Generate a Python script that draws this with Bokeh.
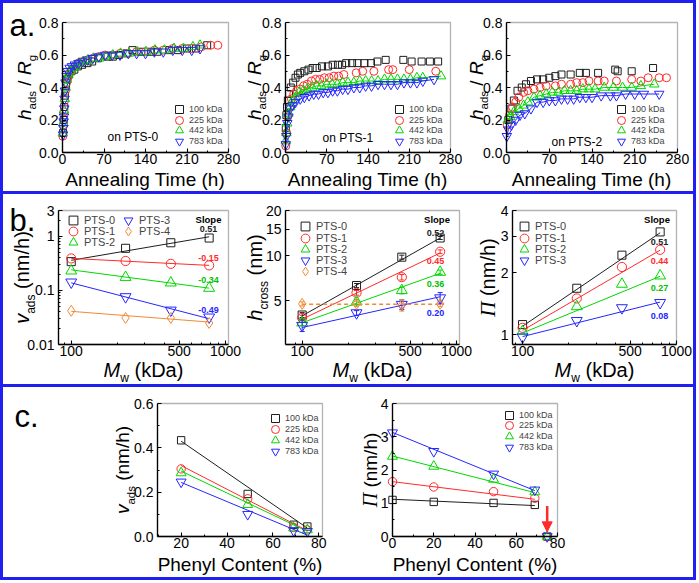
import math
from bokeh.plotting import figure
from bokeh.models import (Label, Legend, LegendItem, FixedTicker, NumeralTickFormatter, Range1d,
                          Arrow, NormalHead, Whisker, TeeHead, ColumnDataSource, BoxAnnotation)
from bokeh.layouts import row, column
from bokeh.embed import file_html
from bokeh.resources import INLINE

SANS = "Liberation Sans"
SERIF = "Liberation Serif"
BOX_BLUE = "#1f1ff2"
BLACK = "#1e1e1e"
RED = "#ff2a2a"
GREEN = "#00d800"
BLUE = "#2626ff"
ORANGE = "#f28a34"
SLOPE_GREEN = "#00c000"

MW_NAMES = ["100 kDa", "225 kDa", "442 kDa", "783 kDa"]
PTS_NAMES = ["PTS-0", "PTS-1", "PTS-2", "PTS-3", "PTS-4"]
MARKERS = ["square", "circle", "triangle", "inverted_triangle", "diamond"]
COLORS = [BLACK, RED, GREEN, BLUE, ORANGE]
SLOPE_COLORS = [BLACK, RED, SLOPE_GREEN, BLUE]
BASE_SIZES = [7, 8, 9.5, 9.5, 9.5]

# ---------------- panel a : h_ads / R_g vs annealing time ----------------
a_xticks = [0, 70, 140, 210, 280]
a_xminor = [35, 105, 175, 245]
a_yticks = [0.0, 0.2, 0.4, 0.6, 0.8]
a_yminor = [0.1, 0.3, 0.5, 0.7]

# PTS-0
a1_t100 = [1, 2, 3, 4, 6, 8, 11, 15, 20, 26, 33, 42, 50, 60, 76, 85, 95, 108, 118, 133, 149, 160, 180, 195, 210, 225, 244]
a1_h100 = [0.12, 0.2, 0.28, 0.35, 0.41, 0.45, 0.48, 0.5, 0.51, 0.53, 0.54, 0.55, 0.56, 0.58, 0.59, 0.59, 0.6, 0.61, 0.63, 0.62, 0.62, 0.62, 0.63, 0.63, 0.64, 0.64, 0.66]
a1_t225 = [0.5, 1.5, 2.5, 3.5, 5, 7, 9, 12, 16, 21, 27, 34, 42, 51, 61, 72, 84, 97, 111, 125, 140, 155, 170, 186, 202, 218, 234, 250, 262]
a1_h225 = [0.1, 0.17, 0.25, 0.32, 0.38, 0.43, 0.46, 0.49, 0.51, 0.53, 0.55, 0.56, 0.57, 0.58, 0.59, 0.6, 0.6, 0.61, 0.61, 0.62, 0.62, 0.63, 0.63, 0.64, 0.64, 0.64, 0.65, 0.66, 0.66]
a1_t442 = [0.5, 1.5, 2.5, 4, 5.5, 7.5, 10, 13, 17, 22, 28, 35, 43, 52, 62, 73, 85, 98, 112, 126, 141, 156, 172, 188, 204, 220, 232]
a1_h442 = [0.12, 0.18, 0.26, 0.33, 0.4, 0.45, 0.48, 0.5, 0.52, 0.53, 0.55, 0.56, 0.57, 0.58, 0.58, 0.59, 0.6, 0.61, 0.61, 0.62, 0.62, 0.63, 0.63, 0.64, 0.64, 0.65, 0.66]
a1_t783 = [1, 1.5, 2, 2.5, 3, 3.5, 4, 5, 7, 9, 12, 16, 21, 27, 34, 42, 51, 61, 72, 84, 97, 111, 125, 140, 155, 170, 186, 202, 218, 232]
a1_h783 = [0.11, 0.15, 0.19, 0.22, 0.27, 0.33, 0.38, 0.43, 0.47, 0.5, 0.52, 0.53, 0.54, 0.55, 0.56, 0.57, 0.58, 0.59, 0.6, 0.6, 0.6, 0.61, 0.61, 0.61, 0.62, 0.62, 0.63, 0.63, 0.63, 0.64]

# PTS-1
a2_t100 = [0.5, 1.5, 2.5, 4, 6, 9, 13, 17, 21, 25, 32, 39, 46, 53, 62, 72, 80, 89, 96, 103, 113, 122, 134, 145, 156, 170, 200, 214, 231, 245, 259]
a2_h100 = [0.15, 0.23, 0.28, 0.32, 0.36, 0.4, 0.43, 0.46, 0.48, 0.49, 0.5, 0.51, 0.52, 0.52, 0.53, 0.53, 0.54, 0.54, 0.54, 0.55, 0.55, 0.55, 0.55, 0.55, 0.56, 0.57, 0.57, 0.56, 0.56, 0.56, 0.56]
a2_t225 = [0.5, 2, 4, 7, 10, 14, 19, 25, 31, 37, 44, 51, 58, 66, 74, 82, 90, 99, 120, 131, 150, 175, 182, 210, 255]
a2_h225 = [0.04, 0.12, 0.22, 0.28, 0.33, 0.36, 0.38, 0.39, 0.41, 0.42, 0.44, 0.45, 0.45, 0.46, 0.46, 0.47, 0.47, 0.48, 0.49, 0.5, 0.5, 0.51, 0.51, 0.51, 0.5]
a2_t442 = [0.5, 1.5, 3, 5, 8, 12, 17, 23, 30, 37, 45, 53, 61, 70, 79, 88, 97, 106, 116, 126, 136, 146, 157, 168, 179, 190, 201, 212, 223, 233, 264]
a2_h442 = [0.07, 0.12, 0.18, 0.24, 0.28, 0.32, 0.34, 0.37, 0.38, 0.39, 0.4, 0.41, 0.41, 0.42, 0.42, 0.42, 0.43, 0.43, 0.43, 0.44, 0.44, 0.44, 0.44, 0.45, 0.45, 0.45, 0.45, 0.45, 0.46, 0.46, 0.47]
a2_t783 = [0.5, 1.5, 3, 5, 8, 12, 17, 25, 32, 40, 48, 56, 64, 72, 80, 88, 97, 106, 116, 126, 136, 146, 157, 168, 179, 190, 201, 212, 223, 233, 252]
a2_h783 = [0.05, 0.1, 0.18, 0.22, 0.27, 0.29, 0.31, 0.33, 0.34, 0.35, 0.36, 0.36, 0.37, 0.37, 0.38, 0.38, 0.39, 0.39, 0.4, 0.4, 0.41, 0.41, 0.42, 0.42, 0.42, 0.42, 0.43, 0.43, 0.43, 0.44, 0.45]

# PTS-2
a3_t100 = [3, 8, 12, 18, 25, 32, 40, 50, 60, 70, 80, 90, 105, 120, 130, 150, 178, 182, 205, 240]
a3_h100 = [0.2, 0.27, 0.32, 0.38, 0.4, 0.42, 0.44, 0.45, 0.45, 0.46, 0.47, 0.48, 0.48, 0.49, 0.49, 0.49, 0.51, 0.5, 0.5, 0.52]
a3_t225 = [1, 5, 10, 15, 20, 28, 35, 45, 55, 65, 80, 90, 105, 115, 125, 135, 150, 160, 180, 205, 220, 232, 250, 262]
a3_h225 = [0.17, 0.23, 0.28, 0.31, 0.34, 0.37, 0.38, 0.39, 0.4, 0.41, 0.41, 0.42, 0.42, 0.43, 0.43, 0.44, 0.44, 0.44, 0.44, 0.45, 0.44, 0.46, 0.46, 0.46]
a3_t442 = [2, 6, 12, 20, 28, 35, 45, 55, 65, 75, 85, 95, 105, 115, 125, 135, 145, 160, 175, 190, 205, 220, 242]
a3_h442 = [0.2, 0.22, 0.25, 0.27, 0.29, 0.31, 0.34, 0.35, 0.36, 0.37, 0.37, 0.38, 0.38, 0.38, 0.39, 0.39, 0.39, 0.4, 0.4, 0.4, 0.4, 0.41, 0.42]
a3_t783 = [0.5, 3, 8, 15, 22, 30, 40, 50, 60, 70, 80, 90, 100, 110, 120, 130, 140, 155, 170, 180, 195, 210, 225, 250]
a3_h783 = [0.1, 0.14, 0.17, 0.2, 0.23, 0.24, 0.27, 0.31, 0.31, 0.32, 0.32, 0.33, 0.33, 0.33, 0.34, 0.34, 0.34, 0.35, 0.35, 0.35, 0.36, 0.36, 0.36, 0.36]

# ---------------- panel b : log-log vs Mw ----------------
mw = [100, 225, 442, 783]
fit_mw = [100, 783]
b_xticks = [100, 500, 1000]
b_xminor = [90, 200, 300, 400, 600, 700, 800, 900]

v_pts0 = [0.34, 0.60, 0.76, 0.93]
v_pts1 = [0.39, 0.35, 0.31, 0.29]
v_pts2 = [0.23, 0.175, 0.138, 0.11]
v_pts3 = [0.142, 0.076, 0.043, 0.032]
v_pts4 = [0.042, 0.031, 0.031, 0.025]
v_fit0 = [0.36, 0.98]
v_fit1 = [0.39, 0.29]
v_fit2 = [0.24, 0.11]
v_fit3 = [0.138, 0.030]
v_fit4 = [0.041, 0.026]
v_slopes = ["0.51", "-0.15", "-0.34", "-0.49"]
b1_yticks = [0.01, 0.1, 1, 3]
b1_yminor = [0.02, 0.03, 0.04, 0.05, 0.06, 0.07, 0.08, 0.09, 0.2, 0.3, 0.4, 0.5, 0.6, 0.7, 0.8, 0.9, 2]

h_pts0 = [4.0, 6.3, 9.75, 13.1]
h_pts1 = [3.83, 5.63, 7.16, 10.6]
h_pts2 = [3.55, 4.9, 5.84, 7.74]
h_pts3 = [3.4, 4.13, 4.7, 5.2]
h_pts4 = [4.75, 4.75, 4.65, 4.75]
h_err0 = [0.15, 0.2, 0.3, 0.3]
h_err1 = [0.15, 0.2, 0.3, 0.3]
h_err2 = [0.15, 0.2, 0.3, 0.25]
h_err3 = [0.3, 0.15, 0.35, 0.45]
h_err4 = [0.15, 0.2, 0.4, 0.2]
h_fit0 = [3.95, 13.1]
h_fit1 = [3.75, 10.4]
h_fit2 = [3.55, 7.6]
h_fit3 = [3.3, 5.3]
h4_dash_x = [100, 830]
h4_dash_y = [4.72, 4.72]
h_slopes = ["0.52", "0.45", "0.36", "0.20"]
b2_yticks = [5, 10, 15, 20]

pi_pts0 = [1.12, 1.68, 2.43, 3.15]
pi_pts1 = [1.08, 1.5, 2.13, 2.58]
pi_pts2 = [1.04, 1.37, 1.76, 1.93]
pi_pts3 = [0.975, 1.17, 1.35, 1.43]
pi_fit0 = [1.1, 3.12]
pi_fit1 = [1.05, 2.57]
pi_fit2 = [1.02, 1.92]
pi_fit3 = [0.98, 1.44]
pi_slopes = ["0.51", "0.44", "0.27", "0.08"]
b3_yticks = [1, 2, 3, 4]

# ---------------- panel c : vs phenyl content ----------------
c1_x = [20, 49, 69, 75]
c1_v100 = [0.434, 0.192, 0.053, 0.045]
c1_v225 = [0.305, 0.17, 0.041, 0.03]
c1_v442 = [0.287, 0.144, 0.038, 0.03]
c1_v783 = [0.246, 0.10, 0.027, 0.023]
c1_fit_x = [20, 75]
c1_f100 = [0.43, 0.038]
c1_f225 = [0.32, 0.026]
c1_f442 = [0.295, 0.023]
c1_f783 = [0.244, 0.006]

c2_x = [0, 20, 49, 69, 75]
c2_p100 = [1.10, 1.04, 1.01, 0.95, 0]
c2_p225 = [1.65, 1.49, 1.35, 1.15, 0]
c2_p442 = [2.41, 2.11, 1.72, 1.34, 0]
c2_p783 = [3.12, 2.56, 1.88, 1.40, 0]
c2_fit_x = [0, 69]
c2_f100 = [1.12, 0.93]
c2_f225 = [1.65, 1.12]
c2_f442 = [2.42, 1.32]
c2_f783 = [3.13, 1.38]
arrow_x = 75
arrow_y = [0.92, 0.14]

# ---------------- helpers ----------------
CW = {' ': 278, '(': 333, ')': 333, '/': 278, '%': 889, '-': 333, '.': 278,
      'a': 556, 'c': 500, 'd': 556, 'e': 556, 'g': 556, 'h': 556, 'i': 222, 'k': 500, 'l': 222,
      'm': 833, 'n': 556, 'o': 556, 'r': 333, 's': 500, 't': 278, 'v': 500, 'w': 722, 'y': 500,
      'C': 722, 'D': 722, 'M': 833, 'P': 667, 'R': 722, 'S': 667, 'T': 611, 'A': 667, '\u03a0': 720}
BASELINE_FIX = 0.22  # em; Bokeh draws "alphabetic" text a little below the anchor


def tw(s, size):
    return sum(CW.get(ch, 556) for ch in s) * size / 1000.0


def conv(v0, v1, t, log):
    if log:
        return 10 ** (math.log10(v0) + t * (math.log10(v1) - math.log10(v0)))
    return v0 + t * (v1 - v0)


class Panel:
    """A figure whose Bokeh frame is the whole canvas; the data box sits at (bl, bt, fw, fh)."""

    def __init__(self, W, H, bl, bt, fw, fh, xr, yr, xlog=False, ylog=False):
        self.W, self.H, self.bl, self.bt, self.fw, self.fh = W, H, bl, bt, fw, fh
        self.xr, self.yr, self.xlog, self.ylog = xr, yr, xlog, ylog
        xs = conv(xr[0], xr[1], -bl / fw, xlog)
        xe = conv(xr[0], xr[1], (W - bl) / fw, xlog)
        ys = conv(yr[0], yr[1], (fh - (H - bt)) / fh, ylog)
        ye = conv(yr[0], yr[1], (fh + bt) / fh, ylog)
        p = figure(width=W, height=H, x_range=Range1d(xs, xe), y_range=Range1d(ys, ye),
                   x_axis_type="log" if xlog else "linear", y_axis_type="log" if ylog else "linear",
                   output_backend="svg", toolbar_location=None,
                   min_border_left=0, min_border_right=0, min_border_top=0, min_border_bottom=0)
        p.background_fill_color = "white"
        p.border_fill_color = "white"
        p.outline_line_color = None
        p.xgrid.visible = False
        p.ygrid.visible = False
        for ax in list(p.xaxis) + list(p.yaxis):
            ax.axis_line_width = 1.3
            ax.axis_line_color = "black"
            ax.major_tick_in = 4
            ax.major_tick_out = 0
            ax.minor_tick_in = 2
            ax.minor_tick_out = 0
            ax.major_tick_line_width = 1.1
            ax.minor_tick_line_width = 1
            ax.major_tick_line_color = "black"
            ax.minor_tick_line_color = "black"
            ax.major_label_text_font = SANS
            ax.major_label_text_font_size = "14px"
            ax.major_label_text_color = "black"
        p.xaxis.fixed_location = yr[0]
        p.xaxis.bounds = (xr[0], xr[1])
        p.yaxis.fixed_location = xr[0]
        p.yaxis.bounds = (yr[0], yr[1])
        p.xaxis.major_label_standoff = 1
        p.yaxis.major_label_standoff = 4
        p.add_layout(BoxAnnotation(left=xr[0], right=xr[1], bottom=yr[0], top=yr[1],
                                   fill_color=None, fill_alpha=0, line_color="black", line_width=1.3))
        self.p = p

    def ticks(self, xt, xm, xf, yt, ym, yf):
        self.p.xaxis.ticker = FixedTicker(ticks=xt, minor_ticks=xm)
        self.p.xaxis.formatter = NumeralTickFormatter(format=xf)
        self.p.yaxis.ticker = FixedTicker(ticks=yt, minor_ticks=ym)
        self.p.yaxis.formatter = NumeralTickFormatter(format=yf)

    def d(self, fx, fy):
        # fx: px right of the data box's left edge, fy: px below its top edge
        return (conv(self.xr[0], self.xr[1], fx / self.fw, self.xlog),
                conv(self.yr[0], self.yr[1], (self.fh - fy) / self.fh, self.ylog))

    def text(self, fx, fy, s, size, color="black", style="normal", font=SANS, align="left", angle=0.0):
        if angle == 0.0:
            fy -= BASELINE_FIX * size
        else:
            fx -= BASELINE_FIX * size
        x, y = self.d(fx, fy)
        self.p.add_layout(Label(x=x, y=y, text=s, text_font=font, text_font_size=f"{size}px",
                                text_font_style=style, text_color=color, text_align=align,
                                text_baseline="alphabetic", angle=angle))

    @staticmethod
    def _split(s, sz):
        # leading/trailing blanks are not drawn by SVG text, so turn them into offsets
        core = s.strip(" ")
        lead = tw(s[:len(s) - len(s.lstrip(" "))], sz)
        return core, lead, tw(s, sz)

    def vlabel(self, fx, segs):
        total = sum(tw(s, sz) for s, sz, _, _, _ in segs)
        fy = self.fh / 2 + total / 2
        for s, sz, st, fnt, shift in segs:
            core, lead, full = self._split(s, sz)
            self.text(fx + shift, fy - lead, core, sz, style=st, font=fnt, angle=math.pi / 2)
            fy -= full

    def hlabel(self, fy, segs):
        total = sum(tw(s, sz) for s, sz, _, _, _ in segs)
        fx = self.fw / 2 - total / 2
        for s, sz, st, fnt, shift in segs:
            core, lead, full = self._split(s, sz)
            self.text(fx + lead, fy + shift, core, sz, style=st, font=fnt)
            fx += full

    def legend(self, items, mx, my, pitch, size, gs=20):
        # one single-entry Legend per row so the rows can sit closer than the glyph box
        for i, (lab, r) in enumerate(items):
            cy = my + i * pitch
            leg = Legend(items=[LegendItem(label=lab, renderers=[r])],
                         location=(self.bl + mx - gs / 2, self.H - (self.bt + cy + gs / 2)),
                         orientation="vertical", padding=0, margin=0, spacing=0,
                         glyph_width=gs, glyph_height=gs, label_height=gs, label_width=10,
                         label_standoff=0, label_text_font=SANS, label_text_font_size=f"{size}px",
                         border_line_alpha=0, background_fill_alpha=0)
            self.p.add_layout(leg)

    def pts(self, x, y, k, scale=1.0):
        return self.p.scatter(x, y, marker=MARKERS[k], size=BASE_SIZES[k] * scale,
                              line_color=COLORS[k], fill_color=None, line_width=1)

    def line(self, x, y, k, width=1.0, dash="solid"):
        return self.p.line(x, y, line_color=COLORS[k], line_width=width, line_dash=dash)


H_AXIS = [("h", 19, "italic", SANS, 0), ("ads", 11.5, "normal", SANS, 6),
          (" / ", 19, "normal", SANS, 0), ("R", 19, "italic", SANS, 0), ("g", 11.5, "normal", SANS, 6)]
V_AXIS_B = [("v", 20, "italic", SANS, 0), ("ads", 12, "normal", SANS, 7), (" (nm/h)", 20, "normal", SANS, 0)]
V_AXIS_C = [("v", 19, "italic", SANS, 0), ("ads", 11.5, "normal", SANS, 7), (" (nm/h)", 19, "normal", SANS, 0)]
HC_AXIS = [("h", 20, "italic", SANS, 0), ("cross", 12, "normal", SANS, 7), (" (nm)", 20, "normal", SANS, 0)]
PI_AXIS_B = [("\u03a0", 21, "italic", SERIF, 0), (" (nm/h)", 20, "normal", SANS, 0)]
PI_AXIS_C = [("\u03a0", 20, "italic", SERIF, 0), (" (nm/h)", 19, "normal", SANS, 0)]
MW_AXIS = [("M", 20, "italic", SANS, 0), ("w", 12, "normal", SANS, 6), (" (kDa)", 20, "normal", SANS, 0)]

# ---------------- row a ----------------
a_data = [
    [(a1_t100, a1_h100), (a1_t225, a1_h225), (a1_t442, a1_h442), (a1_t783, a1_h783)],
    [(a2_t100, a2_h100), (a2_t225, a2_h225), (a2_t442, a2_h442), (a2_t783, a2_h783)],
    [(a3_t100, a3_h100), (a3_t225, a3_h225), (a3_t442, a3_h442), (a3_t783, a3_h783)],
]
# (canvas width, box left, box width)
a_geom = [(237, 59, 166), (222, 45, 165), (231, 44, 171)]
a_labelx = [-34, -27, -26]
a_legx = [117, 114, 115]
a_tag = [("on PTS-0", 45, 117), ("on PTS-1", 37, 118), ("on PTS-2", 45, 122)]
a_panels = []
for i in range(3):
    W, bl, fw = a_geom[i]
    P = Panel(W, 188, bl, 19, fw, 130, (0, 280), (0, 0.8))
    P.ticks(a_xticks, a_xminor, "0", a_yticks, a_yminor, "0.0")
    rs = []
    for k in range(4):
        t, h = a_data[i][k]
        if i > 0 and k >= 2:
            P.line(t, h, k)
        rs.append(P.pts(t, h, k))
    P.legend(list(zip(MW_NAMES, rs)), a_legx[i], 87, 10.5, 9)
    tag, tx, ty = a_tag[i]
    P.text(tx, ty, tag, 12)
    P.vlabel(a_labelx[i], H_AXIS)
    P.hlabel(161, [("Annealing Time (h)", 19, "normal", SANS, 0)])
    a_panels.append(P)
a_panels[0].text(-53, 10, "a.", 31)

# ---------------- row b ----------------
b1 = Panel(238, 190, 55, 16, 170, 134, (82.7, 1045), (0.01, 3), xlog=True, ylog=True)
b1.ticks(b_xticks, b_xminor, "0", b1_yticks, b1_yminor, "0.[00]")
v_series = [v_pts0, v_pts1, v_pts2, v_pts3, v_pts4]
v_fits = [v_fit0, v_fit1, v_fit2, v_fit3, v_fit4]
rs = []
for k in range(5):
    b1.line(fit_mw, v_fits[k], k)
    rs.append(b1.pts(mw, v_series[k], k, 1.15))
b1.legend(list(zip(PTS_NAMES[:3], rs[:3])), 15, 10, 10.8, 11, gs=22)
b1.legend(list(zip(PTS_NAMES[3:], rs[3:])), 70, 10, 10.8, 11, gs=22)
b1.text(150, 11, "Slope", 9.5, style="bold", align="center")
for k, fy in zip(range(4), [20, 49, 71.3, 101.3]):
    b1.text(150, fy, v_slopes[k], 9, color=SLOPE_COLORS[k], style="bold", align="center")
b1.vlabel(-32, V_AXIS_B)
b1.hlabel(164, MW_AXIS)
b1.text(-49, 17, "b.", 31)

b2 = Panel(231, 190, 44, 16, 174, 134, (78, 1045), (2.54, 20), xlog=True, ylog=True)
b2.ticks(b_xticks, b_xminor, "0", b2_yticks, [], "0")
h_series = [h_pts0, h_pts1, h_pts2, h_pts3, h_pts4]
h_errs = [h_err0, h_err1, h_err2, h_err3, h_err4]
h_fits = [h_fit0, h_fit1, h_fit2, h_fit3]
rs = []
for k in range(5):
    if k < 4:
        b2.line(fit_mw, h_fits[k], k)
    else:
        b2.line(h4_dash_x, h4_dash_y, k, width=1.5, dash="4 3")
    src = ColumnDataSource(dict(base=mw, lower=[v - e for v, e in zip(h_series[k], h_errs[k])],
                                upper=[v + e for v, e in zip(h_series[k], h_errs[k])]))
    b2.p.add_layout(Whisker(source=src, base="base", lower="lower", upper="upper", dimension="height",
                            line_color=COLORS[k], line_width=1,
                            upper_head=TeeHead(size=5, line_color=COLORS[k], line_width=1),
                            lower_head=TeeHead(size=5, line_color=COLORS[k], line_width=1)))
    rs.append(b2.pts(mw, h_series[k], k, 1.15))
b2.legend(list(zip(PTS_NAMES, rs)), 20, 16.3, 11.2, 11, gs=22)
b2.text(151.5, 11.3, "Slope", 9.5, style="bold", align="center")
for k, fy in zip(range(4), [24, 52.3, 75, 104]):
    b2.text(150, fy, h_slopes[k], 9, color=SLOPE_COLORS[k], style="bold", align="center")
b2.vlabel(-26, HC_AXIS)
b2.hlabel(164, MW_AXIS)

b3 = Panel(221, 190, 40, 16, 164, 134, (86, 1000), (0.897, 4), xlog=True, ylog=True)
b3.ticks(b_xticks, b_xminor, "0", b3_yticks, [], "0")
pi_series = [pi_pts0, pi_pts1, pi_pts2, pi_pts3]
pi_fits = [pi_fit0, pi_fit1, pi_fit2, pi_fit3]
rs = []
for k in range(4):
    b3.line(fit_mw, pi_fits[k], k)
    rs.append(b3.pts(mw, pi_series[k], k, 1.15))
b3.legend(list(zip(PTS_NAMES[:4], rs)), 12, 16.3, 11.2, 11, gs=22)
b3.text(144.5, 10.7, "Slope", 9.5, style="bold", align="center")
for k, fy in zip(range(4), [33, 52.3, 79, 107.3]):
    b3.text(147, fy, pi_slopes[k], 9, color=SLOPE_COLORS[k], style="bold", align="center")
b3.vlabel(-20, PI_AXIS_B)
b3.hlabel(164, MW_AXIS)

# ---------------- row c ----------------
c1 = Panel(336, 190, 154, 16, 165, 133, (9.7, 81.6), (0, 0.6))
c1.ticks([20, 40, 60, 80], [10, 30, 50, 70], "0", [0.0, 0.2, 0.4, 0.6], [0.1, 0.3, 0.5], "0.0")
c1_series = [c1_v100, c1_v225, c1_v442, c1_v783]
c1_fits = [c1_f100, c1_f225, c1_f442, c1_f783]
rs = []
for k in range(4):
    c1.line(c1_fit_x, c1_fits[k], k)
    rs.append(c1.pts(c1_x, c1_series[k], k, 1.05))
c1.legend(list(zip(MW_NAMES, rs)), 118, 15, 10.9, 9)
c1.vlabel(-31, V_AXIS_C)
c1.hlabel(165.5, [("Phenyl Content (%)", 19, "normal", SANS, 0)])
c1.text(-143, 20, "c.", 31)

c2 = Panel(354, 190, 53, 16, 165, 133, (0, 80), (0, 4))
c2.ticks([0, 20, 40, 60, 80], [10, 30, 50, 70], "0", [0, 1, 2, 3, 4], [0.5, 1.5, 2.5, 3.5], "0")
c2_series = [c2_p100, c2_p225, c2_p442, c2_p783]
c2_fits = [c2_f100, c2_f225, c2_f442, c2_f783]
rs = []
for k in range(4):
    c2.line(c2_fit_x, c2_fits[k], k)
    rs.append(c2.pts(c2_x, c2_series[k], k, 1.05))
c2.legend(list(zip(MW_NAMES, rs)), 117, 11.7, 10.7, 9)
c2.p.add_layout(Arrow(end=NormalHead(size=10, fill_color=RED, line_color=RED, line_width=1),
                      x_start=arrow_x, y_start=arrow_y[0], x_end=arrow_x, y_end=arrow_y[1],
                      line_color=RED, line_width=2.5))
c2.vlabel(-18, PI_AXIS_C)
c2.hlabel(165.5, [("Phenyl Content (%)", 19, "normal", SANS, 0)])

# ---------------- layout ----------------
B = f"3px solid {BOX_BLUE}"
ra = row(a_panels[0].p, a_panels[1].p, a_panels[2].p, styles={"border": B})
rb = row(b1.p, b2.p, b3.p, styles={"border-left": B, "border-right": B, "border-bottom": B})
rc = row(c1.p, c2.p, styles={"border-left": B, "border-right": B, "border-bottom": B})
layout = column(ra, rb, rc)

open("out.html", "w").write(file_html(layout, INLINE, title="plot"))
